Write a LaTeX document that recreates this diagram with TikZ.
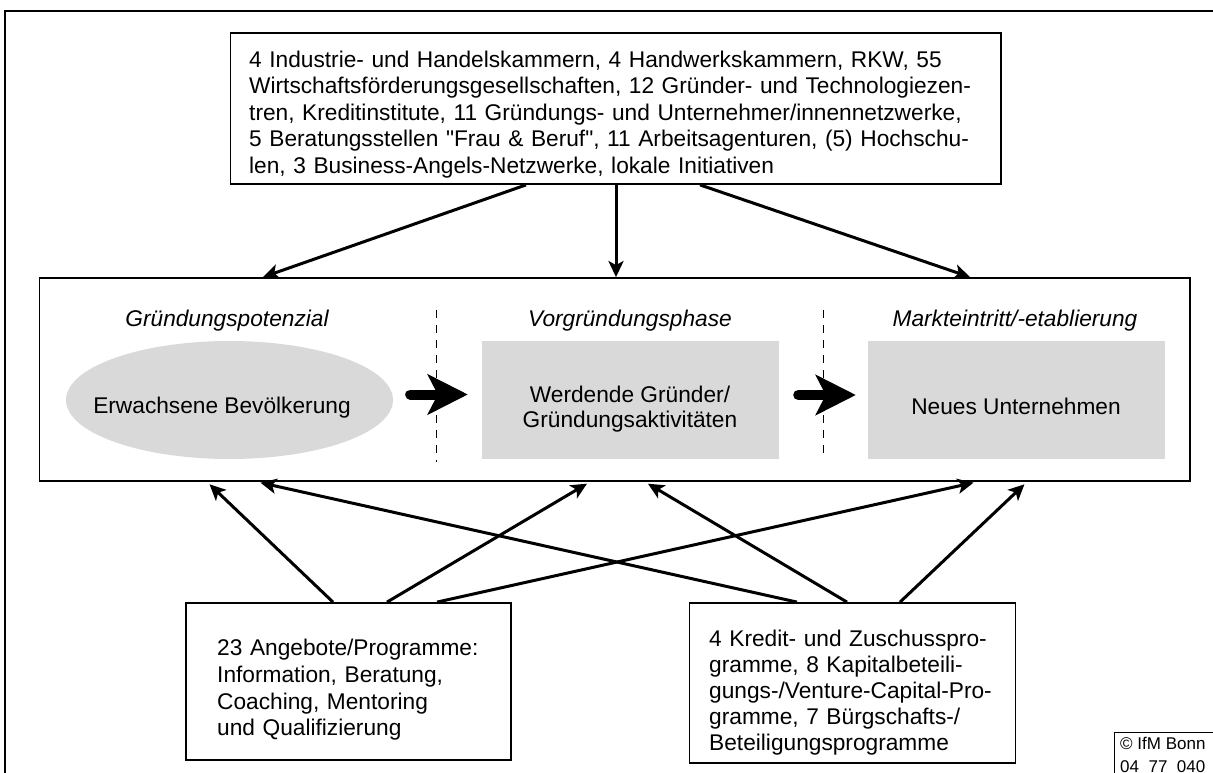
\documentclass[tikz,border=0pt]{standalone}
\usepackage{fontspec}
\setmainfont{Liberation Sans}
\usetikzlibrary{arrows.meta,calc,shapes.geometric}
\definecolor{boxgray}{RGB}{217,217,217}
\newcommand\straightquote{\XeTeXglyph\XeTeXcharglyph"22\relax}
\begin{document}
\begin{tikzpicture}[x=1pt,y=-1pt,
  font=\fontsize{22.7pt}{26.5pt}\selectfont,
  box/.style={draw, line width=1.8pt, inner sep=0pt},
  grayrect/.style={fill=boxgray, inner sep=0pt},
  txt/.style={inner sep=0pt, align=left},
  phase/.style={inner sep=0pt, font=\fontsize{22.7pt}{26.5pt}\selectfont\itshape},
  conn/.style={line width=3pt, -{Stealth[length=16pt,width=15pt,inset=4pt]}},
  bconn/.style={conn, shorten >=3.5pt},
  fat/.style={line width=10pt, line cap=round, -{Stealth[length=40pt,width=40pt,inset=10pt]}},
  dashsep/.style={line width=0.9pt, dash pattern=on 8pt off 7pt}]
\useasboundingbox (0,0) rectangle (1213,773);
\clip (0,0) rectangle (1213,773);

% outer frame (open to right and bottom)
\draw[line width=1.8pt] (5,790) -- (5,11) -- (1230,11);

% boxes
\node[box, minimum width=770.5pt, minimum height=151pt] (tb) at (615.75,108.5) {};
\node[box, minimum width=1150.5pt, minimum height=203pt] (mb) at (614.75,379.5) {};
\node[box, minimum width=325pt, minimum height=157pt] (lb) at (348.5,681.5) {};
\node[box, minimum width=326pt, minimum height=160pt] (rb) at (852.5,683) {};

% texts of boxes
\node[txt, anchor=west, text width=760pt] (tbt) at (249,114.2) {4 Industrie- und Handelskammern, 4 Handwerkskammern, RKW, 55\\
Wirtschaftsförderungsgesellschaften, 12 Gründer- und Technologiezen-\\
tren, Kreditinstitute, 11 Gründungs- und Unternehmer/innennetzwerke,\\
5 Beratungsstellen \straightquote Frau \& Beruf\straightquote, 11 Arbeitsagenturen, (5) Hochschu-\\
len, 3 Business-Angels-Netzwerke, lokale Initiativen};

\node[txt, anchor=west, text width=290pt, font=\fontsize{22.7pt}{26.7pt}\selectfont] (lbt) at (217,690) {23 Angebote/Programme:\\
Information, Beratung,\\
Coaching, Mentoring\\
und Qualifizierung};

\node[txt, anchor=west, text width=300pt, font=\fontsize{22.7pt}{25.8pt}\selectfont] (rbt) at (709,692.7) {4 Kredit- und Zuschusspro-\\
gramme, 8 Kapitalbeteili-\\
gungs-/Venture-Capital-Pro-\\
gramme, 7 Bürgschafts-/\\
Beteiligungsprogramme};

% phase labels
\node[phase] (p1) at (227,321) {Gründungspotenzial};
\node[phase] (p2) at (630,321) {Vorgründungsphase};
\node[phase] (p3) at (1015,321) {Markteintritt/-etablierung};

% separators
\draw[dashsep] (436.5,310) -- (436.5,462);
\draw[dashsep] (823.5,310) -- (823.5,457);

% middle shapes
\node[ellipse, fill=boxgray, inner sep=0pt, minimum width=327pt, minimum height=118pt] (ell) at (229.5,400) {};
\node[inner sep=0pt] (ellt) at (222,408) {Erwachsene Bevölkerung};
\node[grayrect, minimum width=297pt, minimum height=118pt] (g2) at (630.5,400) {};
\node[txt, align=center, font=\fontsize{22.7pt}{25pt}\selectfont] (g2t) at (630,409) {Werdende Gründer/\\Gründungsaktivitäten};
\node[grayrect, minimum width=297pt, minimum height=118pt] (g3) at (1016.5,400) {};
\node[inner sep=0pt] (g3t) at (1016,406) {Neues Unternehmen};

% fat arrows
\draw[fat] ($(ell.east)+(17,-5.5)$) -- ($(g2.west)+(-14,-5.5)$);
\draw[fat] ($(g2.east)+(19,-5)$) -- ($(g3.west)+(-12,-5)$);

% arrows from top box
\draw[conn] (526,0 |- tb.south) -- (263,0 |- mb.north);
\draw[conn] (616,0 |- tb.south) -- (616,0 |- mb.north);
\draw[conn] (700,0 |- tb.south) -- (970,0 |- mb.north);

% arrows from lower left box
\draw[bconn] (333,0 |- lb.north) -- (207,0 |- mb.south);
\draw[bconn] (387,0 |- lb.north) -- (590,0 |- mb.south);
\draw[bconn] (437,0 |- lb.north) -- (977,0 |- mb.south);

% arrows from lower right box
\draw[bconn] (797,0 |- rb.north) -- (257,0 |- mb.south);
\draw[bconn] (847,0 |- rb.north) -- (645,0 |- mb.south);
\draw[bconn] (900,0 |- rb.north) -- (1027,0 |- mb.south);

% copyright
\draw[line width=1pt] (1114,790) -- (1114,732) -- (1230,732);
\node[anchor=base west, inner sep=0pt, font=\fontsize{17pt}{19pt}\selectfont] (cp1) at (1120,749) {© IfM Bonn};
\node[anchor=base west, inner sep=0pt, font=\fontsize{17pt}{19pt}\selectfont] (cp2) at (1120,772) {04\_77\_040};
\end{tikzpicture}
\end{document}
